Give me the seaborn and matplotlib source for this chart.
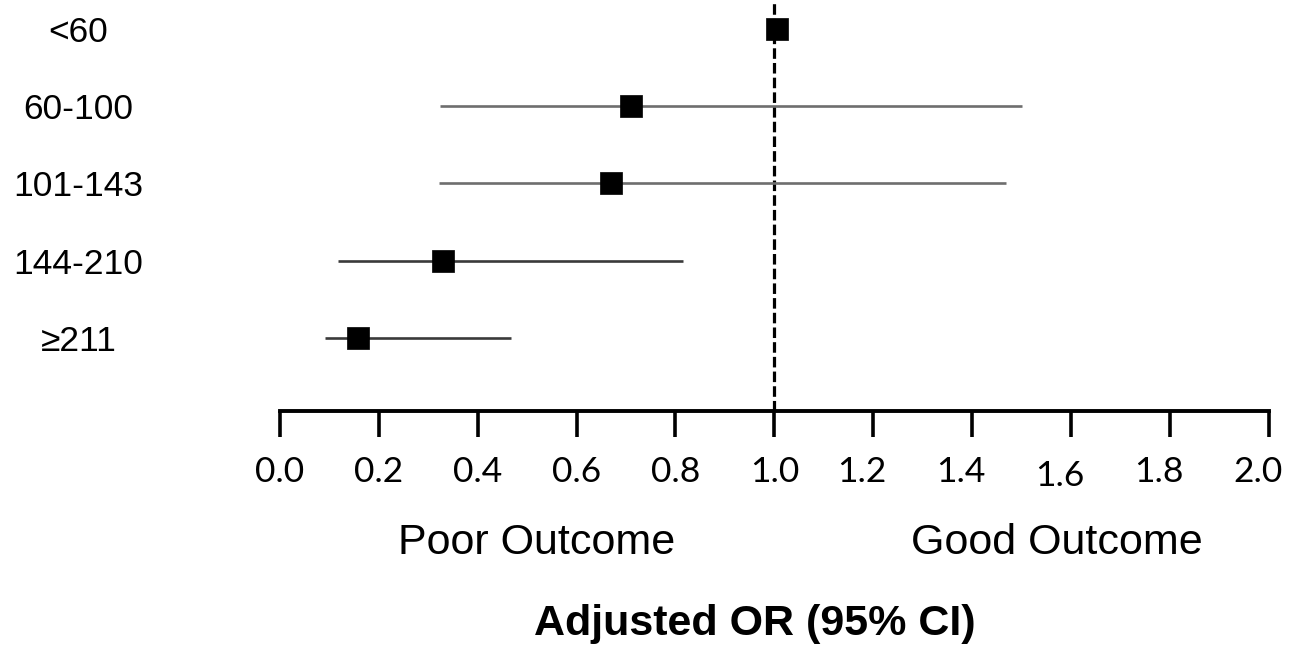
import matplotlib
matplotlib.use("Agg")
import matplotlib.pyplot as plt
import matplotlib.transforms as mtransforms
import seaborn as sns
import pandas as pd

# ---- data ----
categories = ["<60", "60-100", "101-143", "144-210", "≥211"]
odds_ratio = [1.006, 0.710, 0.669, 0.330, 0.157]
ci_low = [1.006, 0.324, 0.322, 0.118, 0.092]
ci_high = [1.006, 1.500, 1.469, 0.815, 0.467]
ci_colors = ["#6e6e6e", "#6e6e6e", "#6e6e6e", "#3a3a3a", "#3a3a3a"]
xticks = [0.0, 0.2, 0.4, 0.6, 0.8, 1.0, 1.2, 1.4, 1.6, 1.8, 2.0]
xtick_labels = ["0.0", "0.2", "0.4", "0.6", "0.8", "1.0", "1.2", "1.4", "1.6", "1.8", "2.0"]

df = pd.DataFrame({"group": categories, "OR": odds_ratio, "lo": ci_low, "hi": ci_high})

sns.set_theme(style="white")
plt.rcParams["font.family"] = ["Liberation Sans", "DejaVu Sans"]
plt.rcParams["text.color"] = "black"
plt.rcParams["xtick.labelcolor"] = "black"
plt.rcParams["ytick.labelcolor"] = "black"
plt.rcParams["xtick.color"] = "black"

W, H = 1290, 647
fig = plt.figure(figsize=(W / 100, H / 100), dpi=100)
ax_left, ax_right = 280 / W, 1268.7 / W
ax_bottom = 1 - 411 / H
ax = fig.add_axes([ax_left, ax_bottom, ax_right - ax_left, 1 - ax_bottom])

# CI lines
ypos = list(range(len(categories)))
ax.hlines(ypos, df["lo"], df["hi"], colors=ci_colors, linewidth=1.9, zorder=2)

# reference line
ax.axvline(1.0, color="black", linewidth=2.3, linestyle=(0, (3.3, 1.3)), zorder=1)

# point estimates
sns.scatterplot(data=df, x="OR", y="group", marker="s", s=250, color="black",
                edgecolor="black", linewidth=0.5, ax=ax, zorder=3, legend=False)

ax.set_xlim(0, 2)
ax.set_ylim(4.948, -0.376)

for s in ["top", "right", "left"]:
    ax.spines[s].set_visible(False)
ax.spines["bottom"].set_linewidth(2.8)
ax.spines["bottom"].set_color("black")

ax.set_xticks(xticks)
ax.set_xticklabels(xtick_labels, fontfamily=["Lato", "DejaVu Sans"], fontsize=25.5, color="black")
ax.tick_params(axis="x", direction="out", length=18.5, width=2.6, color="black", pad=14,
               bottom=True)

ax.set_yticks(ypos)
ax.set_yticklabels(categories, fontsize=25.5, color="black")
ax.tick_params(axis="y", length=0, pad=145, left=False)
for lbl in ax.get_yticklabels():
    lbl.set_ha("center")

# right-hand tick labels sit a little left of their ticks in the reference; "1.6" is lower
for lbl, val in zip(ax.get_xticklabels(), xticks):
    dx = -11 if val > 1.1 else 0
    dy = -4 if abs(val - 1.6) < 1e-9 else 0
    if dx or dy:
        lbl.set_transform(lbl.get_transform() +
                          mtransforms.ScaledTranslation(dx / 100, dy / 100, fig.dpi_scale_trans))

ax.set_xlabel("")
ax.set_ylabel("")
ax.grid(False)

fig.text(536.5 / W, 1 - 543 / H, "Poor Outcome", ha="center", va="center", fontsize=31, color="black")
fig.text(1056.5 / W, 1 - 543 / H, "Good Outcome", ha="center", va="center", fontsize=31, color="black")
fig.text(755 / W, 1 - 624 / H, "Adjusted OR (95% CI)", ha="center", va="center",
         fontsize=31, fontweight="bold", color="black")

fig.savefig("out.png", dpi=100, facecolor="white")
